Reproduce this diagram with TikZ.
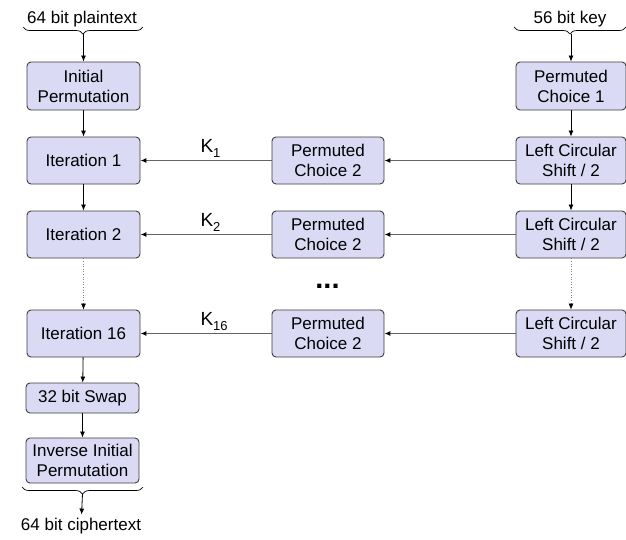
\documentclass[tikz,border=0pt]{standalone}
\usepackage{fontspec}
\setmainfont{Liberation Sans}
\usetikzlibrary{arrows.meta,decorations.pathreplacing}
\definecolor{boxfill}{RGB}{218,218,245}
\definecolor{boxline}{RGB}{60,60,60}
\definecolor{hline}{RGB}{100,100,100}
\newcommand\Klab[1]{K\raisebox{-5pt}{\fontsize{13}{13}\selectfont #1}}
\begin{document}
\begin{tikzpicture}[x=1pt,y=-1pt,
  every node/.style={font=\fontsize{17}{20}\selectfont},
  blk/.style={draw=boxline,fill=boxfill,rounded corners=4pt,line width=0.9pt,align=center,inner sep=0pt},
  lcol/.style={blk,minimum width=113pt},
  rcol/.style={blk,minimum width=110pt},
  mcol/.style={blk,minimum width=112pt},
  varr/.style={draw=black,line width=0.8pt,-{Latex[length=6pt,width=5pt]}},
  darr/.style={draw=gray,line width=0.6pt,dotted,-{Latex[length=6pt,width=5pt,color=black,fill=black]}},
  harr/.style={draw=hline,line width=1.3pt,-{Latex[length=6pt,width=5pt,color=black,fill=black]}},
  brc/.style={draw=black,line width=0.7pt,decorate,decoration={brace,mirror,amplitude=7pt}},
  klab/.style={anchor=base west,font=\fontsize{19}{20}\selectfont}
]
\useasboundingbox (0,0) rectangle (626,539);

% texts at top
\node (pt) at (82,19) {64 bit plaintext};
\node (key) at (570,19) {56 bit key};

% left column
\node[lcol,minimum height=48pt] (ip) at (83.5,86) {Initial\\Permutation};
\node[lcol,minimum height=47pt] (it1) at (83.5,160.5) {Iteration 1};
\node[lcol,minimum height=47pt] (it2) at (83.5,234.5) {Iteration 2};
\node[lcol,minimum height=47pt] (it16) at (83.5,333.5) {Iteration 16};
\node[lcol,minimum height=30pt] (swap) at (82.5,398) {32 bit Swap};
\node[lcol,minimum height=45pt] (iip) at (82.5,460.5) {Inverse Initial\\Permutation};
\node (ct) at (81,526) {64 bit ciphertext};

% right column
\node[rcol,minimum height=48pt] (pc1) at (571,86) {Permuted\\Choice 1};
\node[rcol,minimum height=47pt] (ls1) at (571,160.5) {Left Circular\\Shift / 2};
\node[rcol,minimum height=47pt] (ls2) at (571,234.5) {Left Circular\\Shift / 2};
\node[rcol,minimum height=47pt] (ls16) at (571,333.5) {Left Circular\\Shift / 2};

% middle column
\node[mcol,minimum height=47pt] (pc2a) at (328,160.5) {Permuted\\Choice 2};
\node[mcol,minimum height=47pt] (pc2b) at (328,234.5) {Permuted\\Choice 2};
\node[mcol,minimum height=47pt] (pc2c) at (328,333.5) {Permuted\\Choice 2};
\node[font=\fontsize{29}{29}\selectfont\bfseries] (dots) at (327.5,286) {...};

% braces
\draw[brc] (23,27) -- (143,27);
\coordinate (bt1) at (83.5,34);
\draw[brc] (514,27) -- (626,27);
\coordinate (bt2) at (571,34);
\draw[brc] (22,487) -- (143,487);
\coordinate (bt3) at (82.5,494);

% vertical arrows
\draw[varr] (bt1) -- (ip);
\draw[varr] (ip) -- (it1);
\draw[varr] (it1) -- (it2);
\draw[darr] (it2) -- (it16);
\draw[varr] (it16) -- (swap);
\draw[varr] (swap) -- (iip);
\draw[varr] (bt3) -- (ct);
\draw[varr] (bt2) -- (pc1);
\draw[varr] (pc1) -- (ls1);
\draw[varr] (ls1) -- (ls2);
\draw[darr] (ls2) -- (ls16);

% horizontal arrows
\draw[harr] (ls1) -- (pc2a);
\draw[harr] (ls2) -- (pc2b);
\draw[harr] (ls16) -- (pc2c);
\draw[harr] (pc2a) -- (it1);
\draw[harr] (pc2b) -- (it2);
\draw[harr] (pc2c) -- (it16);

% key labels
\node[klab] (k1) at (197,152) {\Klab{1}};
\node[klab] (k2) at (197,226) {\Klab{2}};
\node[klab] (k16) at (197,325) {\Klab{16}};
\end{tikzpicture}
\end{document}
